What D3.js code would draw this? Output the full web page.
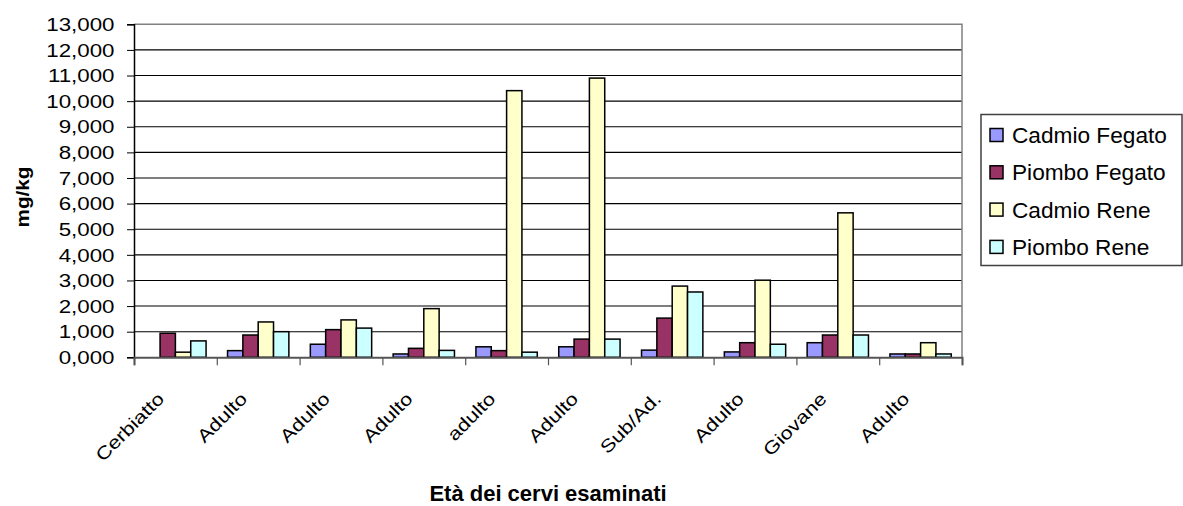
<!DOCTYPE html>
<html>
<head>
<meta charset="utf-8">
<script src="https://cdn.jsdelivr.net/npm/d3@7"></script>
<style>
  html, body { margin: 0; padding: 0; background: #fff; }
  svg { display: block; font-family: "Liberation Sans", Arial, sans-serif; }
</style>
</head>
<body>
<svg id="chart" width="1183" height="506"></svg>
<script>
// Categories: age class of each examined deer
const categories = ["Cerbiatto", "Adulto", "Adulto", "Adulto", "adulto", "Adulto", "Sub/Ad.", "Adulto", "Giovane", "Adulto"];

// Series names
const seriesNames = ["Cadmio Fegato", "Piombo Fegato", "Cadmio Rene", "Piombo Rene"];

// Concentrations (mg/kg) per deer
const cadmioFegato = [0.00, 0.26, 0.51, 0.13, 0.41, 0.41, 0.28, 0.21, 0.57, 0.13];
const piomboFegato = [0.94, 0.87, 1.08, 0.35, 0.26, 0.71, 1.53, 0.57, 0.87, 0.13];
const cadmioRene   = [0.20, 1.38, 1.46, 1.90, 10.41, 10.90, 2.78, 3.01, 5.64, 0.57];
const piomboRene   = [0.64, 1.00, 1.14, 0.27, 0.20, 0.71, 2.55, 0.51, 0.87, 0.13];

// Y axis tick values
const yTicks = [0, 1, 2, 3, 4, 5, 6, 7, 8, 9, 10, 11, 12, 13];

const seriesValues = [cadmioFegato, piomboFegato, cadmioRene, piomboRene];
const seriesColors = ["#9999FF", "#993366", "#FFFFCC", "#CCFFFF"];

const svg = d3.select("#chart");

const plot = { left: 134, right: 962, top: 24.3, bottom: 357.3 };

const it = d3.formatLocale({ decimal: ",", thousands: ".", grouping: [3], currency: ["€", ""] });
const fmt = it.format(".3f");

const x = d3.scaleBand()
  .domain(d3.range(categories.length))
  .range([plot.left, plot.right])
  .paddingInner(0).paddingOuter(0);

const xs = d3.scaleBand()
  .domain(d3.range(seriesNames.length))
  .range([0, x.bandwidth()])
  .paddingInner(0).paddingOuter(0.7);

const y = d3.scaleLinear().domain([0, 13]).range([plot.bottom, plot.top]);

// Horizontal gridlines
svg.append("g")
  .selectAll("line")
  .data(yTicks.filter(d => d > 0 && d < 13))
  .join("line")
  .attr("x1", plot.left).attr("x2", plot.right)
  .attr("y1", d => y(d)).attr("y2", d => y(d))
  .attr("stroke", "#000").attr("stroke-width", 1.1);

// Plot area frame (top & right)
svg.append("path")
  .attr("d", `M${plot.left},${y(13)}H${plot.right}V${plot.bottom}`)
  .attr("fill", "none").attr("stroke", "#808080").attr("stroke-width", 1.5);

// Bars
const groups = svg.append("g")
  .selectAll("g")
  .data(seriesValues)
  .join("g")
  .attr("fill", (d, i) => seriesColors[i]);

groups.selectAll("rect")
  .data((vals, si) => vals.map((v, ci) => ({ v, ci, si })))
  .join("rect")
  .filter(d => d.v > 0)
  .attr("x", d => x(d.ci) + xs(d.si))
  .attr("y", d => y(d.v))
  .attr("width", xs.bandwidth())
  .attr("height", d => y(0) - y(d.v))
  .attr("stroke", "#000")
  .attr("stroke-width", 1.5);

// Y axis
const yAxis = d3.axisLeft(y).tickValues(yTicks).tickSize(7).tickFormat(fmt);
const yg = svg.append("g").attr("transform", `translate(${plot.left},0)`).call(yAxis);
yg.select(".domain").attr("stroke", "#000").attr("stroke-width", 1.5);
yg.selectAll(".tick line").attr("stroke", "#000");
yg.selectAll(".tick text").remove();

// Y tick labels (wide text)
svg.append("g")
  .selectAll("text")
  .data(yTicks)
  .join("text")
  .attr("transform", d => `translate(114.5,${y(d)}) scale(1.2,1)`)
  .attr("text-anchor", "end")
  .attr("dy", "0.36em")
  .attr("font-size", 18.6)
  .attr("fill", "#000")
  .text(fmt);

// X axis
const xAxisScale = d3.scaleLinear().domain([0, categories.length]).range([plot.left, plot.right]);
const xg = svg.append("g").attr("transform", `translate(0,${plot.bottom})`)
  .call(d3.axisBottom(xAxisScale).tickValues(d3.range(categories.length + 1)).tickSize(8).tickFormat(""));
xg.select(".domain").attr("stroke", "#555").attr("stroke-width", 2);
xg.selectAll(".tick line").attr("stroke", "#555").attr("stroke-width", 1.2);

// Category labels, rotated
svg.append("g")
  .selectAll("text")
  .data(categories)
  .join("text")
  .attr("transform", (d, i) => `translate(${x(i) + x.bandwidth() / 2 - 10},400) rotate(-45) scale(1.21,1)`)
  .attr("text-anchor", "end")
  .attr("font-size", 18)
  .attr("fill", "#000")
  .text(d => d);

// Axis titles
svg.append("text")
  .attr("transform", `translate(28.5,197) rotate(-90) scale(1.15,1)`)
  .attr("text-anchor", "middle")
  .attr("font-size", 18)
  .attr("font-weight", "bold")
  .text("mg/kg");

svg.append("text")
  .attr("x", (plot.left + plot.right) / 2)
  .attr("y", 501)
  .attr("text-anchor", "middle")
  .attr("font-size", 22)
  .attr("font-weight", "bold")
  .text("Età dei cervi esaminati");

// Legend
const legend = svg.append("g");
legend.append("rect")
  .attr("x", 981).attr("y", 114.5).attr("width", 201).attr("height", 151)
  .attr("fill", "#fff").attr("stroke", "#404040").attr("stroke-width", 1.5);

const items = legend.selectAll("g.item")
  .data(seriesNames)
  .join("g")
  .attr("class", "item")
  .attr("transform", (d, i) => `translate(0,${135 + i * 37.3})`);

items.append("rect")
  .attr("x", 990).attr("y", -6.5).attr("width", 13).attr("height", 13)
  .attr("fill", (d, i) => seriesColors[i])
  .attr("stroke", "#000").attr("stroke-width", 1.5);

items.append("text")
  .attr("transform", "translate(1012,0) scale(1.03,1)")
  .attr("dy", "0.36em")
  .attr("font-size", 22)
  .attr("fill", "#000")
  .text(d => d);
</script>
</body>
</html>
